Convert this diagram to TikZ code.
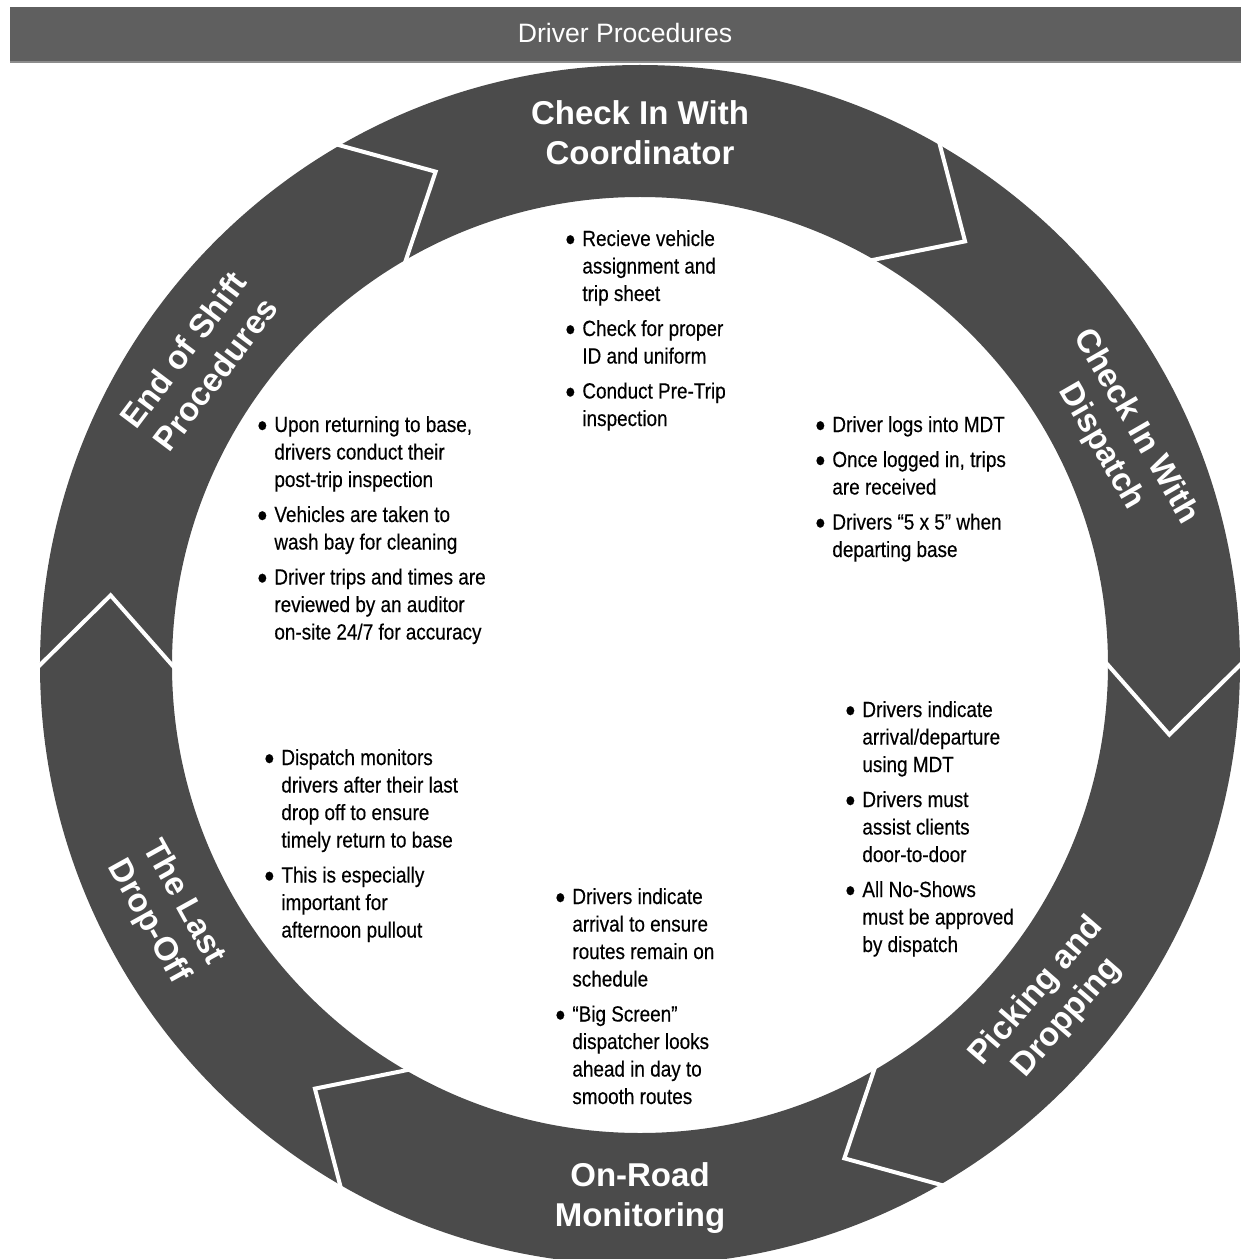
\documentclass[tikz,border=0pt]{standalone}
\usepackage{graphicx}
\usepackage{fontspec}
\setmainfont{Liberation Sans}
\newfontfamily\bodyfont[FakeStretch=0.86,FakeBold=0.35]{Liberation Sans}
\definecolor{ringgray}{HTML}{4B4B4B}
\definecolor{bargray}{HTML}{5F5F5F}
\definecolor{baredge}{HTML}{8C8C8C}
\newcommand{\itm}{\makebox[8.5pt][l]{\raisebox{-0.4ex}{\scalebox{1.5}{•}}}}
\newcommand{\cnt}{\makebox[8.5pt][l]{}}
\begin{document}
\begin{tikzpicture}[x=0.5pt,y=0.5pt,
  sep/.style={draw=white,line width=2pt,line join=miter,shorten <=-2pt,shorten >=-2pt},
  stage/.style={text=white,align=center,inner sep=0pt,
    font=\bfseries\fontsize{16.5}{20}\selectfont},
  bullets/.style={text=black,align=left,anchor=base west,inner sep=0pt,
    font=\bodyfont\fontsize{11}{13.75}\selectfont}]
% page frame (origin at the centre of the ring)
\useasboundingbox (-640,-594) rectangle (601,665);

% heading bar
\fill[bargray] (-630,658) rectangle (601,604);
\fill[baredge] (-630,604) rectangle (601,602);
\node[text=white,font=\fontsize{13.3}{16}\selectfont] (title) at (-15,632) {Driver Procedures};

% ring of six chevron stages
\fill[ringgray,even odd rule] (0,0) circle[radius=600] (0,0) circle[radius=468];
\foreach \a in {60,0,-60,-120,-180,120}
  \draw[sep] (\a:600) -- ({\a-7.5}:534) -- (\a:468);

% stage titles
\node[stage] (sTop)   at (0,532)       {Check In With\\Coordinator};
\node[stage,rotate=-60] (sRight) at (25.5:530) {Check In With\\Dispatch};
\node[stage,rotate=49]  (sLowR)  at (-39.5:534)  {Picking and\\Dropping};
\node[stage] (sBot)   at (0,-533)      {On-Road\\Monitoring};
\node[stage,rotate=-61] (sLowL)  at (-152.5:535) {The Last\\Drop-Off};
\node[stage,rotate=53]  (sUpL)   at (145.5:535)  {End of Shift\\Procedures};

% bullet lists inside the ring (placed at the baseline of their last line)
\node[bullets] (bTop) at (-75,239) {%
  \itm Recieve vehicle\\ \cnt assignment and\\ \cnt trip sheet\\[3.75pt]
  \itm Check for proper\\ \cnt ID and uniform\\[3.75pt]
  \itm Conduct Pre-Trip\\ \cnt inspection};
\node[bullets] (bRight) at (175,108) {%
  \itm Driver logs into MDT\\[3.75pt]
  \itm Once logged in, trips\\ \cnt are received\\[3.75pt]
  \itm Drivers “5 x 5” when\\ \cnt departing base};
\node[bullets] (bLowR) at (205,-287) {%
  \itm Drivers indicate\\ \cnt arrival/departure\\ \cnt using MDT\\[3.75pt]
  \itm Drivers must\\ \cnt assist clients\\ \cnt door-to-door\\[3.75pt]
  \itm All No-Shows\\ \cnt must be approved\\ \cnt by dispatch};
\node[bullets] (bBot) at (-85,-439) {%
  \itm Drivers indicate\\ \cnt arrival to ensure\\ \cnt routes remain on\\ \cnt schedule\\[3.75pt]
  \itm “Big Screen”\\ \cnt dispatcher looks\\ \cnt ahead in day to\\ \cnt smooth routes};
\node[bullets] (bLowL) at (-376,-272.5) {%
  \itm Dispatch monitors\\ \cnt drivers after their last\\ \cnt drop off to ensure\\ \cnt timely return to base\\[3.75pt]
  \itm This is especially\\ \cnt important for\\ \cnt afternoon pullout};
\node[bullets] (bUpL) at (-383,25.5) {%
  \itm Upon returning to base,\\ \cnt drivers conduct their\\ \cnt post-trip inspection\\[3.75pt]
  \itm Vehicles are taken to\\ \cnt wash bay for cleaning\\[3.75pt]
  \itm Driver trips and times are\\ \cnt reviewed by an auditor\\ \cnt on-site 24/7 for accuracy};
\end{tikzpicture}
\end{document}
